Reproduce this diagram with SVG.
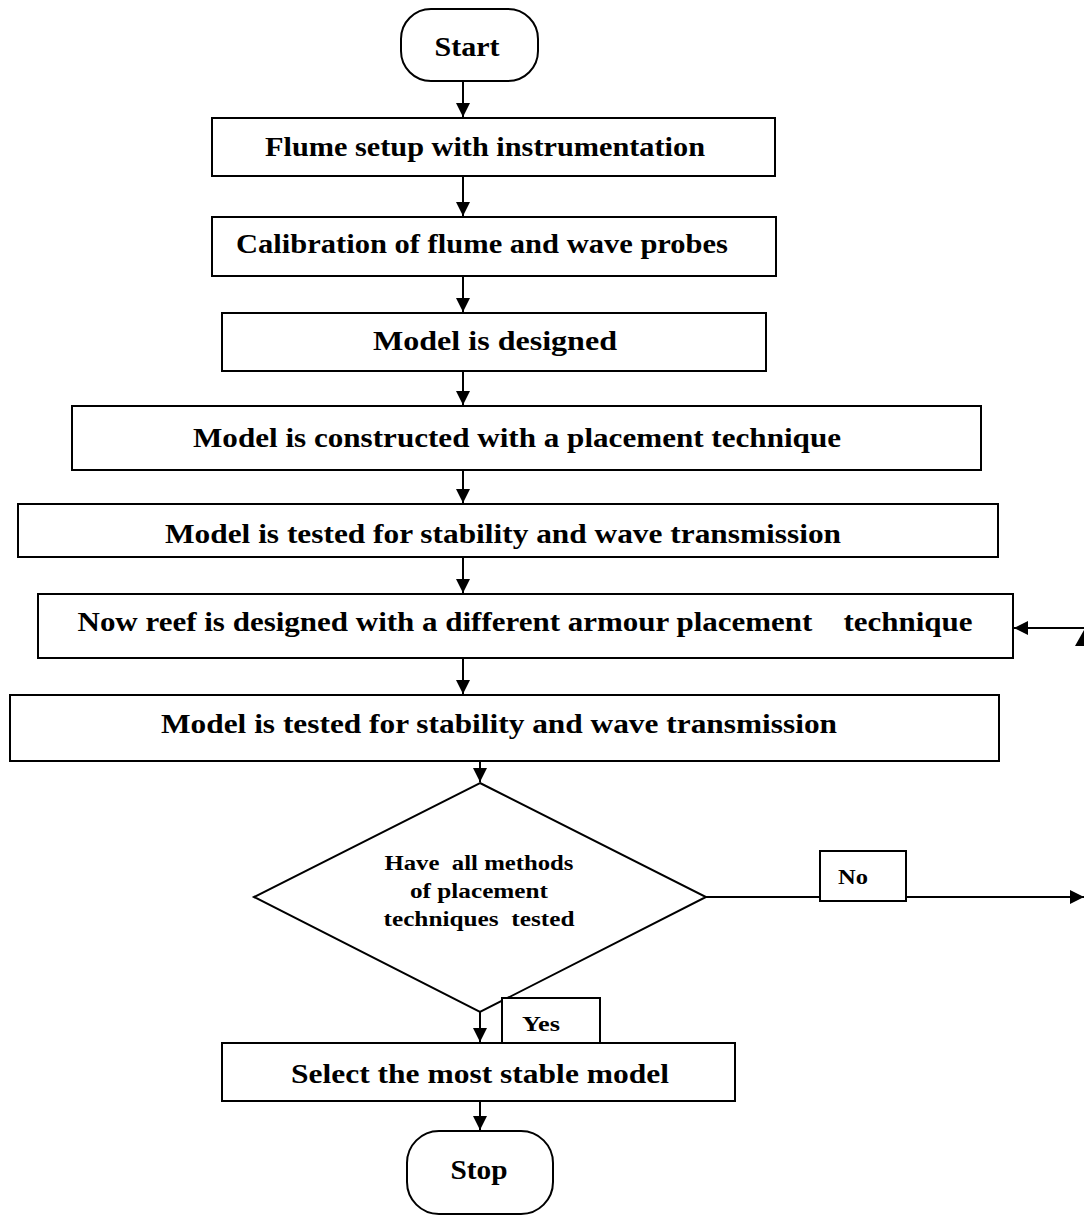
<svg xmlns="http://www.w3.org/2000/svg" width="1084" height="1217" viewBox="0 0 1084 1217">
<style>
.box{fill:#fff;stroke:#000;stroke-width:2}
.ln{fill:none;stroke:#000;stroke-width:2}
.t{font-family:"Liberation Serif","Times New Roman",serif;font-weight:bold;font-size:28px;fill:#000;text-anchor:middle}
.s{font-size:20px}
</style>
<defs>
<marker id="ah" viewBox="0 0 10 10" refX="10" refY="5" markerWidth="14" markerHeight="14" markerUnits="userSpaceOnUse" orient="auto">
<path d="M0,0 L10,5 L0,10 z" fill="#000"/>
</marker>
</defs>
<rect width="1084" height="1217" fill="#fff"/>
<g id="connectors">
<line class="ln" x1="463" y1="81" x2="463" y2="117" marker-end="url(#ah)"/>
<line class="ln" x1="463" y1="176" x2="463" y2="216" marker-end="url(#ah)"/>
<line class="ln" x1="463" y1="276" x2="463" y2="312" marker-end="url(#ah)"/>
<line class="ln" x1="463" y1="371" x2="463" y2="405" marker-end="url(#ah)"/>
<line class="ln" x1="463" y1="470" x2="463" y2="503" marker-end="url(#ah)"/>
<line class="ln" x1="463" y1="557" x2="463" y2="593" marker-end="url(#ah)"/>
<line class="ln" x1="463" y1="658" x2="463" y2="694" marker-end="url(#ah)"/>
<line class="ln" x1="480" y1="761" x2="480" y2="782" marker-end="url(#ah)"/>
<line class="ln" x1="480" y1="1012" x2="480" y2="1042" marker-end="url(#ah)"/>
<line class="ln" x1="480" y1="1101" x2="480" y2="1130" marker-end="url(#ah)"/>
<line class="ln" x1="706" y1="897" x2="1084" y2="897" marker-end="url(#ah)"/>
<line class="ln" x1="1084" y1="628" x2="1014" y2="628" marker-end="url(#ah)"/>
<polygon points="1075,646 1084,630 1084,646" fill="#000"/>
</g>
<g id="start"><rect class="box" x="401" y="9" width="137" height="72" rx="30"/><text class="t" x="467" y="56" textLength="65" lengthAdjust="spacingAndGlyphs">Start</text></g>
<g id="n1"><rect class="box" x="212" y="118" width="563" height="58"/><text class="t" x="485" y="156" textLength="440" lengthAdjust="spacingAndGlyphs">Flume setup with instrumentation</text></g>
<g id="n2"><rect class="box" x="212" y="217" width="564" height="59"/><text class="t" x="482" y="253" textLength="492" lengthAdjust="spacingAndGlyphs">Calibration of flume and wave probes</text></g>
<g id="n3"><rect class="box" x="222" y="313" width="544" height="58"/><text class="t" x="495" y="350" textLength="244" lengthAdjust="spacingAndGlyphs">Model is designed</text></g>
<g id="n4"><rect class="box" x="72" y="406" width="909" height="64"/><text class="t" x="517" y="447" textLength="648" lengthAdjust="spacingAndGlyphs">Model is constructed with a placement technique</text></g>
<g id="n5"><rect class="box" x="18" y="504" width="980" height="53"/><text class="t" x="503" y="543" textLength="676" lengthAdjust="spacingAndGlyphs">Model is tested for stability and wave transmission</text></g>
<g id="n6"><rect class="box" x="38" y="594" width="975" height="64"/><text class="t" x="525" y="631" textLength="895" lengthAdjust="spacingAndGlyphs" xml:space="preserve">Now reef is designed with a different armour placement    technique</text></g>
<g id="n7"><rect class="box" x="10" y="695" width="989" height="66"/><text class="t" x="499" y="733" textLength="676" lengthAdjust="spacingAndGlyphs">Model is tested for stability and wave transmission</text></g>
<g id="decision"><polygon class="box" points="480,783 706,897 480,1012 254,897"/>
<text class="t s" x="479" y="870" textLength="189" lengthAdjust="spacingAndGlyphs" xml:space="preserve">Have  all methods</text>
<text class="t s" x="479" y="898" textLength="138" lengthAdjust="spacingAndGlyphs">of placement</text>
<text class="t s" x="479" y="926" textLength="191" lengthAdjust="spacingAndGlyphs" xml:space="preserve">techniques  tested</text></g>
<g id="no"><rect class="box" x="820" y="851" width="86" height="50"/><text class="t s" x="853" y="884" textLength="30" lengthAdjust="spacingAndGlyphs">No</text></g>
<g id="yes"><rect class="box" x="502" y="998" width="98" height="45"/><text class="t s" x="541" y="1031" textLength="38" lengthAdjust="spacingAndGlyphs">Yes</text></g>
<g id="select"><rect class="box" x="222" y="1043" width="513" height="58"/><text class="t" x="480" y="1083" textLength="378" lengthAdjust="spacingAndGlyphs">Select the most stable model</text></g>
<g id="stop"><rect class="box" x="407" y="1131" width="146" height="83" rx="32"/><text class="t" x="479" y="1179" textLength="57" lengthAdjust="spacingAndGlyphs">Stop</text></g>
</svg>
